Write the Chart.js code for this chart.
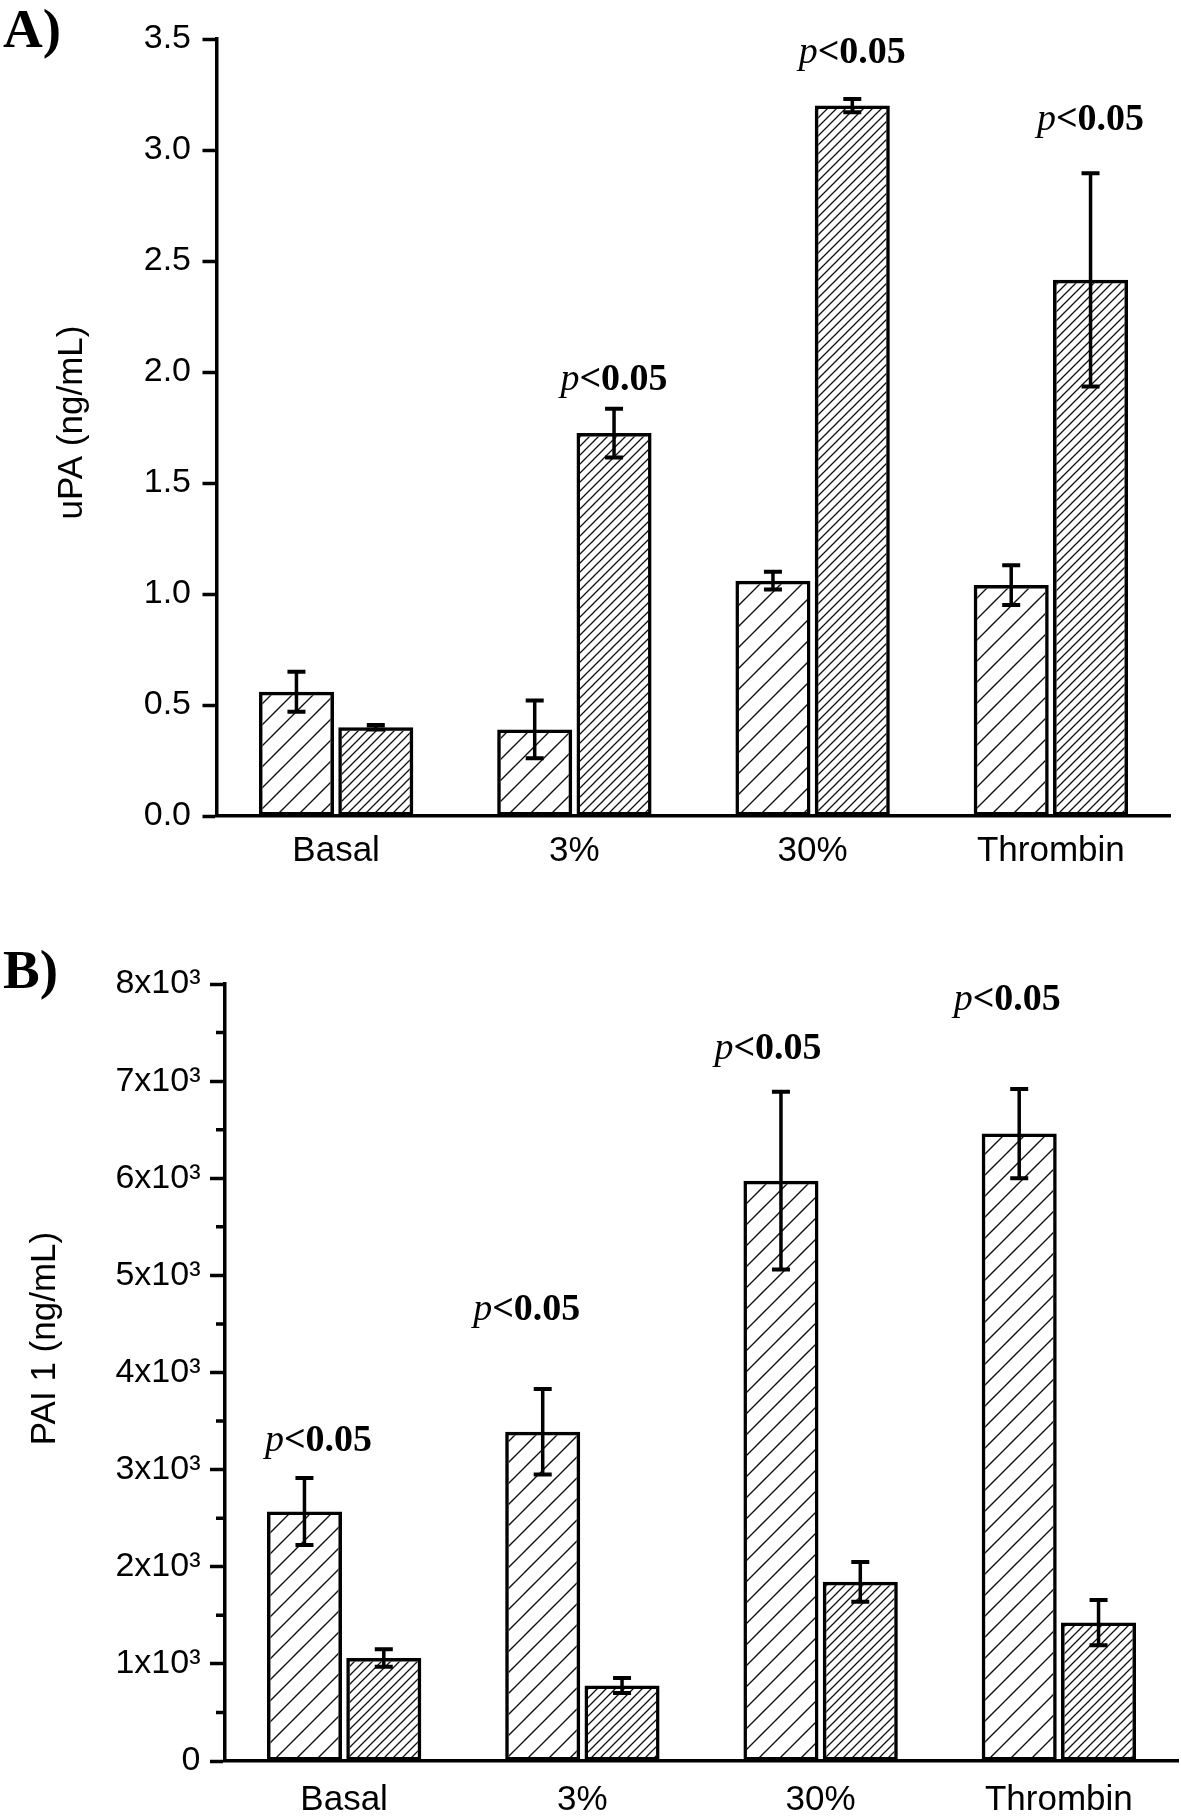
<!DOCTYPE html>
<html>
<head>
<meta charset="utf-8">
<script src="https://cdn.jsdelivr.net/npm/chart.js@4.4.1/dist/chart.umd.min.js"></script>
<style>
  html, body { margin: 0; padding: 0; background: #fff; }
  #wrap { position: relative; width: 1181px; height: 1816px; }
  canvas { position: absolute; left: 0; }
  #chartA { top: 0; }
  #chartB { top: 900px; }
</style>
</head>
<body>
<div id="wrap">
  <canvas id="chartA" width="1181" height="900"></canvas>
  <canvas id="chartB" width="1181" height="916"></canvas>
</div>
<script>
// two-panel hatched bar chart: uPA (A) and PAI 1 (B)

const categories = ['Basal', '3%', '30%', 'Thrombin'];

// panel A - uPA (ng/mL)
const upaFirst = [0.56, 0.39, 1.06, 1.04];
const upaFirstErr = [0.09, 0.13, 0.04, 0.09];
const upaSecond = [0.40, 1.725, 3.20, 2.415];
const upaSecondErr = [0.01, 0.11, 0.03, 0.48];
const upaSig = [null, 1.92, 3.39, 3.09];      // p<0.05 baselines, over 2nd bar
const upaAxis = { min: 0, max: 3.5, step: 0.5 };

// panel B - PAI 1 (ng/mL)
const paiFirst = [2570, 3390, 5975, 6460];
const paiFirstErr = [345, 440, 915, 460];
const paiSecond = [1060, 778, 1845, 1425];
const paiSecondErr = [90, 77, 205, 233];
const paiSig = [3190, 4540, 7225, 7730];      // p<0.05 baselines, over 1st bar
const paiAxis = { min: 0, max: 8000, step: 1000, minor: [500, 1500, 2500, 3500, 4500, 5500, 6500, 7500] };

Chart.defaults.font.family = '"Liberation Sans", Arial, sans-serif';
Chart.defaults.color = '#000';

// diagonal "/" hatch fill
function hatch(step, lw) {
  const c = document.createElement('canvas');
  c.width = c.height = step;
  const g = c.getContext('2d');
  g.strokeStyle = '#111';
  g.lineWidth = lw;
  g.beginPath();
  g.moveTo(0, step); g.lineTo(step, 0);
  g.moveTo(-step / 2, step / 2); g.lineTo(step / 2, -step / 2);
  g.moveTo(step / 2, step * 1.5); g.lineTo(step * 1.5, step / 2);
  g.stroke();
  return g.createPattern(c, 'repeat');
}

const sparseHatch = hatch(21, 1.4);
const denseHatch = hatch(9, 1.3);

// error bars drawn through the y scale
const errorBars = {
  id: 'errorBars',
  afterDatasetsDraw(chart) {
    const ctx = chart.ctx;
    const y = chart.scales.y;
    ctx.save();
    ctx.strokeStyle = '#000';
    chart.data.datasets.forEach((ds, i) => {
      chart.getDatasetMeta(i).data.forEach((bar, j) => {
        const v = ds.data[j], e = ds.errors[j];
        const top = y.getPixelForValue(v + e);
        const bot = y.getPixelForValue(v - e);
        ctx.lineWidth = 3.5;
        ctx.beginPath();
        ctx.moveTo(bar.x, top); ctx.lineTo(bar.x, bot);
        ctx.stroke();
        ctx.lineWidth = 4;
        ctx.beginPath();
        ctx.moveTo(bar.x - 9, top); ctx.lineTo(bar.x + 9, top);
        ctx.moveTo(bar.x - 9, bot); ctx.lineTo(bar.x + 9, bot);
        ctx.stroke();
      });
    });
    ctx.restore();
  }
};

// "p<0.05" labels
const sigLabels = {
  id: 'sigLabels',
  afterDraw(chart, args, opts) {
    const ctx = chart.ctx;
    const y = chart.scales.y;
    const meta = chart.getDatasetMeta(opts.dataset);
    ctx.save();
    ctx.fillStyle = '#000';
    ctx.textBaseline = 'alphabetic';
    opts.values.forEach((v, j) => {
      if (v == null) return;
      const x = meta.data[j].x + (opts.nudge ? opts.nudge[j] : 0);
      const py = y.getPixelForValue(v);
      const italic = 'italic 38px "Liberation Serif", "Times New Roman", serif';
      const bold = 'bold 38px "Liberation Serif", "Times New Roman", serif';
      ctx.font = italic;
      const w1 = ctx.measureText('p').width;
      ctx.font = bold;
      const w2 = ctx.measureText('<0.05').width;
      const x0 = x - (w1 + w2) / 2;
      ctx.font = italic;
      ctx.fillText('p', x0, py);
      ctx.font = bold;
      ctx.fillText('<0.05', x0 + w1, py);
    });
    ctx.restore();
  }
};

// rotated y title + panel tag + minor ticks
const decor = {
  id: 'decor',
  afterDraw(chart, args, opts) {
    const ctx = chart.ctx;
    const area = chart.chartArea;
    const y = chart.scales.y;
    ctx.save();
    ctx.fillStyle = '#000';
    ctx.font = 'bold 55px "Liberation Serif", "Times New Roman", serif';
    ctx.textAlign = 'left';
    ctx.textBaseline = 'alphabetic';
    ctx.fillText(opts.tag, 3, opts.tagY);

    ctx.translate(opts.titleX, (area.top + area.bottom) / 2 + opts.titleShift);
    ctx.rotate(-Math.PI / 2);
    ctx.font = '35px "Liberation Sans", Arial, sans-serif';
    ctx.textAlign = 'center';
    ctx.textBaseline = 'middle';
    ctx.fillText(opts.title, 0, 0);
    ctx.restore();

    if (opts.minor) {
      ctx.save();
      ctx.strokeStyle = '#000';
      ctx.lineWidth = 3.5;
      ctx.beginPath();
      opts.minor.forEach(v => {
        const py = y.getPixelForValue(v);
        ctx.moveTo(area.left - 9, py);
        ctx.lineTo(area.left, py);
      });
      ctx.stroke();
      ctx.restore();
    }
  }
};

function barSet(values, errors, fill) {
  return {
    data: values,
    errors: errors,
    backgroundColor: fill,
    borderColor: '#000',
    borderWidth: 3.5,
    borderSkipped: false,
    barPercentage: 0.946,
    categoryPercentage: 0.666
  };
}

function buildChart(id, cfg) {
  return new Chart(document.getElementById(id), {
    type: 'bar',
    data: {
      labels: categories,
      datasets: [
        barSet(cfg.first, cfg.firstErr, sparseHatch),
        barSet(cfg.second, cfg.secondErr, denseHatch)
      ]
    },
    plugins: [errorBars, sigLabels, decor],
    options: {
      responsive: false,
      animation: false,
      layout: { padding: cfg.padding },
      scales: {
        x: {
          ticks: { color: '#000', font: { size: 35 }, padding: cfg.xPad },
          grid: { display: false, drawTicks: false },
          border: { display: true, color: '#000', width: 3.5 },
          afterFit: s => { s.height = cfg.xHeight; }
        },
        y: {
          min: cfg.axis.min,
          max: cfg.axis.max,
          ticks: { stepSize: cfg.axis.step, color: '#000', font: { size: 34 }, padding: cfg.yPad, callback: cfg.fmt },
          grid: { drawOnChartArea: false, drawTicks: true, tickLength: cfg.tickLen, tickWidth: 3.5, tickColor: '#000' },
          border: { display: true, color: '#000', width: 3.5 },
          afterFit: s => { s.width = cfg.yWidth; }
        }
      },
      plugins: {
        legend: { display: false },
        tooltip: { enabled: false },
        sigLabels: { values: cfg.sig, dataset: cfg.sigSet, nudge: cfg.nudge },
        decor: cfg.decor
      }
    }
  });
}

buildChart('chartA', {
  first: upaFirst, firstErr: upaFirstErr,
  second: upaSecond, secondErr: upaSecondErr,
  sig: upaSig, sigSet: 1,
  axis: upaAxis,
  fmt: v => v.toFixed(1),
  padding: { top: 39, right: 11, bottom: 0, left: 0 },
  xHeight: 84, xPad: 14,
  yWidth: 217, yPad: 11.5, tickLen: 14.5,
  decor: { tag: 'A)', tagY: 47, title: 'uPA (ng/mL)', titleX: 72, titleShift: -5 }
});

buildChart('chartB', {
  first: paiFirst, firstErr: paiFirstErr,
  second: paiSecond, secondErr: paiSecondErr,
  sig: paiSig, sigSet: 0, nudge: [14, -16, -13, -12],
  axis: paiAxis,
  fmt: v => v === 0 ? '0' : (v / 1000) + 'x10\u00B3',
  padding: { top: 84, right: 3, bottom: 0, left: 0 },
  xHeight: 55, xPad: 18,
  yWidth: 225, yPad: 9.5, tickLen: 15,
  decor: { tag: 'B)', tagY: 88, title: 'PAI 1 (ng/mL)', titleX: 45, titleShift: -34, minor: paiAxis.minor }
});
</script>
</body>
</html>
